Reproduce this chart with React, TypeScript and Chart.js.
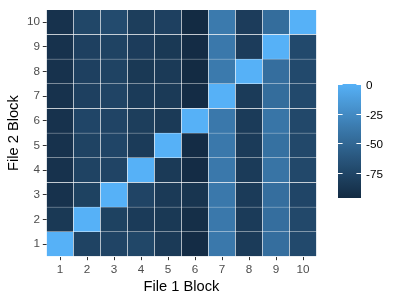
import React, { useEffect, useRef } from "react";
import { Chart, registerables } from "chart.js";

Chart.register(...registerables);

const xLabels = ["1", "2", "3", "4", "5", "6", "7", "8", "9", "10"];
const yLabels = ["1", "2", "3", "4", "5", "6", "7", "8", "9", "10"];

// similarity values, one array per File 2 block (y), indexed by File 1 block (x)
const row1 = [0, -77, -76, -74, -84, -95, -38, -83, -45, -72];
const row2 = [-85, 0, -78, -83, -85, -93, -38, -83, -45, -73];
const row3 = [-90, -78, 0, -76, -84, -88, -38, -83, -45, -75];
const row4 = [-90, -77, -76, 0, -84, -95, -38, -83, -41, -73];
const row5 = [-90, -77, -75, -83, 0, -95, -38, -83, -43, -73];
const row6 = [-90, -75, -76, -81, -84, 0, -38, -83, -40, -73];
const row7 = [-90, -79, -76, -83, -84, -95, 0, -83, -46, -72];
const row8 = [-90, -79, -77, -85, -84, -96, -37, 0, -45, -72];
const row9 = [-90, -79, -77, -82, -85, -95, -38, -82, 0, -72];
const row10 = [-90, -74, -71, -81, -79, -96, -37, -82, -46, 0];

const legendTicks = [0, -25, -50, -75];

const rows = [row1, row2, row3, row4, row5, row6, row7, row8, row9, row10];

const LOW = "#132B43";
const HIGH = "#56B1F7";

function hexToRgb(h: string) {
  return [parseInt(h.slice(1, 3), 16), parseInt(h.slice(3, 5), 16), parseInt(h.slice(5, 7), 16)];
}
const WX = 0.95047, WY = 1.0, WZ = 1.08883;
function toLab(rgb: number[]) {
  const lin = rgb.map((c) => {
    c /= 255;
    return c <= 0.04045 ? c / 12.92 : Math.pow((c + 0.055) / 1.055, 2.4);
  });
  const [r, g, b] = lin;
  const X = (0.4124 * r + 0.3576 * g + 0.1805 * b) / WX;
  const Y = (0.2126 * r + 0.7152 * g + 0.0722 * b) / WY;
  const Z = (0.0193 * r + 0.1192 * g + 0.9505 * b) / WZ;
  const f = (t: number) => (t > 0.008856 ? Math.cbrt(t) : 7.787 * t + 16 / 116);
  const fx = f(X), fy = f(Y), fz = f(Z);
  return [116 * fy - 16, 500 * (fx - fy), 200 * (fy - fz)];
}
function fromLab(lab: number[]) {
  const [L, a, bb] = lab;
  const fy = (L + 16) / 116;
  const fx = fy + a / 500;
  const fz = fy - bb / 200;
  const inv = (t: number) => (t * t * t > 0.008856 ? t * t * t : (t - 16 / 116) / 7.787);
  const X = inv(fx) * WX, Y = inv(fy) * WY, Z = inv(fz) * WZ;
  const r = 3.2406 * X - 1.5372 * Y - 0.4986 * Z;
  const g = -0.9689 * X + 1.8758 * Y + 0.0415 * Z;
  const b = 0.0557 * X - 0.204 * Y + 1.057 * Z;
  return [r, g, b].map((c) => {
    const v = c <= 0.0031308 ? 12.92 * c : 1.055 * Math.pow(c, 1 / 2.4) - 0.055;
    return Math.round(Math.max(0, Math.min(1, v)) * 255);
  });
}
const labLow = toLab(hexToRgb(LOW));
const labHigh = toLab(hexToRgb(HIGH));

const allVals = rows.flat();
const vMin = Math.min(...allVals);
const vMax = Math.max(...allVals);

function colorFor(v: number) {
  const t = (v - vMin) / (vMax - vMin);
  const lab = labLow.map((c, i) => c + (labHigh[i] - c) * t);
  const [r, g, b] = fromLab(lab);
  return `rgb(${r},${g},${b})`;
}

const FONT = "'Liberation Sans', Arial, sans-serif";

const colorbarPlugin = {
  id: "colorbar",
  afterDraw(chart: any) {
    const ctx = chart.ctx;
    const x0 = 338, w = 23, top = 84, bottom = 198;
    const h = bottom - top;
    ctx.save();
    const grad = ctx.createLinearGradient(0, top, 0, bottom);
    const n = 30;
    for (let i = 0; i <= n; i++) {
      const v = vMax - (i / n) * (vMax - vMin);
      grad.addColorStop(i / n, colorFor(v));
    }
    ctx.fillStyle = grad;
    ctx.fillRect(x0, top, w, h);
    ctx.strokeStyle = "#ffffff";
    ctx.lineWidth = 1;
    ctx.fillStyle = "#000000";
    ctx.font = `11.7px ${FONT}`;
    ctx.textAlign = "left";
    ctx.textBaseline = "middle";
    legendTicks.forEach((v) => {
      const y = Math.round(top + ((vMax - v) / (vMax - vMin)) * h) + 0.5;
      ctx.beginPath();
      ctx.moveTo(x0, y);
      ctx.lineTo(x0 + 4.6, y);
      ctx.moveTo(x0 + w - 4.6, y);
      ctx.lineTo(x0 + w, y);
      ctx.stroke();
      ctx.fillText(String(v), 366, y + 1);
    });
    ctx.restore();
  },
};

export default function App() {
  const ref = useRef<HTMLCanvasElement>(null);
  useEffect(() => {
    if (!ref.current) return;
    const datasets = rows.map((row, j) => ({
      label: yLabels[j],
      data: row.map(() => 1),
      backgroundColor: row.map((v) => colorFor(v)),
      borderColor: "#ffffff",
      borderWidth: 0.5,
      borderSkipped: false as any,
      barPercentage: 1,
      categoryPercentage: 1,
    }));
    const chart = new Chart(ref.current, {
      type: "bar",
      data: { labels: xLabels, datasets },
      plugins: [colorbarPlugin],
      options: {
        animation: false,
        responsive: false,
        maintainAspectRatio: false,
        layout: { padding: { top: 6.5, right: 83.5, left: 0, bottom: 0 } },
        plugins: { legend: { display: false }, tooltip: { enabled: false } },
        scales: {
          x: {
            stacked: true,
            offset: true,
            afterFit: (s: any) => {
              s.height = 43.5;
            },
            grid: {
              display: true,
              offset: false,
              drawOnChartArea: false,
              drawTicks: true,
              tickLength: 3.7,
              color: "#333333",
            },
            border: { display: false },
            ticks: {
              color: "#4D4D4D",
              font: { family: FONT, size: 11.7 },
              padding: 2.3,
              maxRotation: 0,
              autoSkip: false,
            },
            title: {
              display: true,
              text: "File 1 Block",
              color: "#000000",
              font: { family: FONT, size: 14.67 },
              padding: { top: 0, bottom: 4.2 },
            },
          },
          y: {
            stacked: true,
            min: 0,
            max: 10,
            afterFit: (s: any) => {
              s.width = 46.5;
            },
            afterBuildTicks: (s: any) => {
              s.ticks = yLabels.map((_, i) => ({ value: i + 0.5 }));
            },
            grid: {
              display: true,
              drawOnChartArea: false,
              drawTicks: true,
              tickLength: 3.7,
              color: "#333333",
            },
            border: { display: false },
            ticks: {
              color: "#4D4D4D",
              font: { family: FONT, size: 11.7 },
              padding: 2.8,
              autoSkip: false,
              callback: (_v: any, i: number) => yLabels[i],
            },
            title: {
              display: true,
              text: "File 2 Block",
              color: "#000000",
              font: { family: FONT, size: 14.67 },
              padding: { top: 5.2, bottom: 0 },
            },
          },
        },
      },
    });
    return () => chart.destroy();
  }, []);
  return (
    <div style={{ position: "absolute", left: 0, top: 0, width: 400, height: 300, background: "#fff" }}>
      <canvas ref={ref} width={400} height={300} />
    </div>
  );
}
